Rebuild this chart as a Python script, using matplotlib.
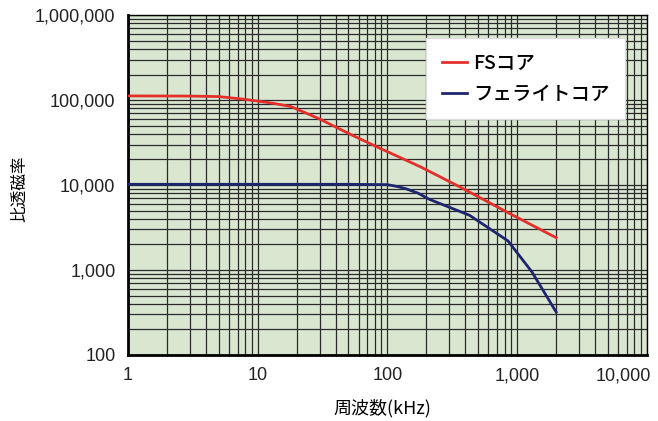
import matplotlib.pyplot as plt
from matplotlib.ticker import FuncFormatter, LogLocator, NullFormatter
from matplotlib.transforms import ScaledTranslation

plt.rcParams['font.family'] = ['Liberation Sans', 'Noto Sans CJK JP', 'DejaVu Sans']

# 周波数 (kHz) と比透磁率
fs_freq = [1, 3, 5, 8, 13, 18, 30, 51, 88, 178, 362, 880, 2000]
fs_mu = [112000, 111500, 110000, 102000, 92000, 84000, 60000, 40000, 27000, 16500, 9500, 4600, 2400]

fe_freq = [1, 10, 50, 100, 120, 140, 173, 210, 430, 850, 1300, 2000]
fe_mu = [10200, 10200, 10200, 10100, 9600, 9000, 8000, 6800, 4400, 2200, 950, 320]

x_ticks = [1, 10, 100, 1000, 10000]
y_ticks = [100, 1000, 10000, 100000, 1000000]

fig = plt.figure(figsize=(6.58, 4.21), dpi=100)
ax = fig.add_axes([0.1945, 0.157, 0.7885, 0.807])
ax.set_facecolor('#d9e7d1')

ax.plot(fs_freq, fs_mu, color='#e3302a', lw=2.0, label='FSコア', zorder=3)
ax.plot(fe_freq, fe_mu, color='#1e2670', lw=2.0, label='フェライトコア', zorder=3)

ax.set_xscale('log')
ax.set_yscale('log')
ax.set_xlim(1, 10000)
ax.set_ylim(100, 1000000)
ax.set_xticks(x_ticks)
ax.set_yticks(y_ticks)
fmt = FuncFormatter(lambda v, p: f'{int(round(v)):,}')
ax.xaxis.set_major_formatter(fmt)
ax.yaxis.set_major_formatter(fmt)
ax.xaxis.set_minor_locator(LogLocator(base=10, subs=range(2, 10)))
ax.yaxis.set_minor_locator(LogLocator(base=10, subs=range(2, 10)))
ax.xaxis.set_minor_formatter(NullFormatter())
ax.yaxis.set_minor_formatter(NullFormatter())
ax.tick_params(which='both', length=0, labelsize=13, colors='#222222')
ax.tick_params(axis='x', pad=9)
ax.tick_params(axis='y', pad=9)

# 右端の 10,000 は枠内に収まるよう左へずらす
fig.canvas.draw()
last = ax.get_xticklabels()[-1]
last.set_transform(last.get_transform() + ScaledTranslation(-0.24, 0, fig.dpi_scale_trans))

ax.grid(True, which='both', color='#2a2a2a', lw=0.9, zorder=1)
ax.set_axisbelow(True)
for s in ['left', 'bottom']:
    ax.spines[s].set_linewidth(2.0)
for s in ['top', 'right']:
    ax.spines[s].set_linewidth(1.0)

ax.set_xlabel('周波数(kHz)', fontsize=13, family=['Noto Sans CJK JP', 'DejaVu Sans'])
ax.xaxis.set_label_coords(0.49, -0.13)
ax.set_ylabel('比透磁率', fontsize=12, family=['Noto Sans CJK JP', 'DejaVu Sans'])
ax.yaxis.set_label_coords(-0.193, 0.49)

leg = ax.legend(loc='upper right', bbox_to_anchor=(0.958, 0.932), borderaxespad=0,
                frameon=True, fancybox=False, framealpha=1, edgecolor='#dddddd',
                handlelength=1.3, handletextpad=0.3, labelspacing=0.6,
                borderpad=0.8, prop={'family': 'Noto Sans CJK JP', 'size': 14, 'weight': 'medium'})

fig.savefig('out.png', dpi=100, facecolor='white')
